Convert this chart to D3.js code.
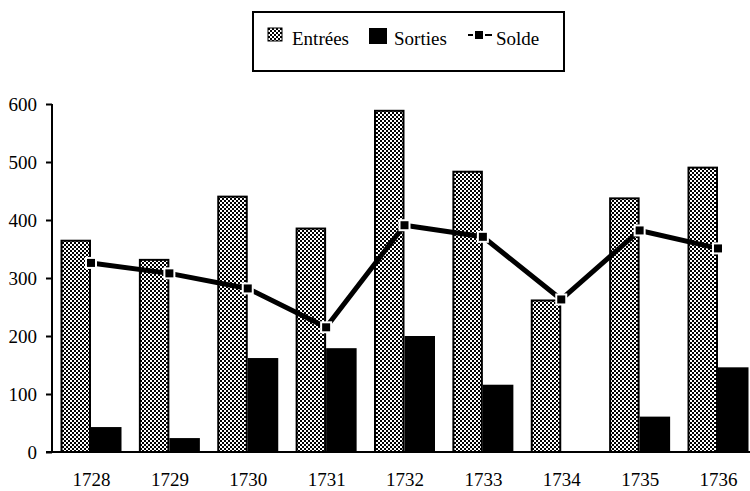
<!DOCTYPE html>
<html><head><meta charset="utf-8">
<script src="https://cdn.jsdelivr.net/npm/d3@7"></script>
<style>
html,body{margin:0;padding:0;background:#fff;}
text{font-family:"Liberation Serif","Times New Roman",serif;fill:#000;}
</style></head>
<body>
<svg id="chart" width="750" height="491"></svg>
<script>
const years = ["1728","1729","1730","1731","1732","1733","1734","1735","1736"];
const entrees = [366, 333, 442, 387, 590, 485, 263, 439, 492];
const sorties = [43, 24, 162, 179, 200, 116, 0, 61, 146];
const solde = [326, 308, 282, 215, 391, 371, 263, 382, 351];
const yTicks = [0, 100, 200, 300, 400, 500, 600];
const seriesNames = ["Entrées", "Sorties", "Solde"];

const svg = d3.select("#chart");
const defs = svg.append("defs");
const pat = defs.append("pattern").attr("id","checker").attr("patternUnits","userSpaceOnUse")
  .attr("width",4).attr("height",4);
pat.append("rect").attr("width",4).attr("height",4).attr("fill","#fff");
pat.append("rect").attr("x",0).attr("y",0).attr("width",2).attr("height",2).attr("fill","#000");
pat.append("rect").attr("x",2).attr("y",2).attr("width",2).attr("height",2).attr("fill","#000");

const y = d3.scaleLinear().domain([0,600]).range([452,104]);
const x = d3.scalePoint().domain(years).range([91,718]);
const barW = 30.5;
const xs = d3.scaleBand().domain(["Entrées","Sorties"]).range([-barW, barW]).padding(0);

// bars
const g = svg.append("g");
g.selectAll("rect.ent").data(years).join("rect").attr("class","ent")
  .attr("x", d => x(d) + xs("Entrées") + 1)
  .attr("y", (d,i) => y(entrees[i]) + 1)
  .attr("width", xs.bandwidth() - 2)
  .attr("height", (d,i) => y(0) - y(entrees[i]) - 1)
  .attr("fill","url(#checker)").attr("stroke","#000").attr("stroke-width",2);
g.selectAll("rect.sor").data(years).join("rect").attr("class","sor")
  .attr("x", d => x(d) + xs("Sorties"))
  .attr("y", (d,i) => y(sorties[i]))
  .attr("width", xs.bandwidth())
  .attr("height", (d,i) => y(0) - y(sorties[i]))
  .attr("fill","#000");

// axes
const yAxis = d3.axisLeft(y).tickValues(yTicks).tickSize(6).tickPadding(9);
const ya = svg.append("g").attr("transform","translate(52,0)").call(yAxis);
ya.select(".domain").attr("stroke","#000").attr("stroke-width",2).attr("d","M0,452V104");
ya.selectAll(".tick line").attr("stroke","#000").attr("stroke-width",2);
ya.selectAll(".tick text").attr("font-size",19).attr("font-family","Liberation Serif").attr("fill","#000");

const xAxis = d3.axisBottom(x).tickSize(0).tickPadding(21);
const xa = svg.append("g").attr("transform","translate(0,452)").call(xAxis);
xa.select(".domain").attr("stroke","#000").attr("stroke-width",2).attr("d","M46,0H750");
xa.selectAll(".tick text").attr("font-size",19).attr("font-family","Liberation Serif").attr("fill","#000");

// solde line
const line = d3.line().x((d,i) => x(years[i])).y(d => y(d));
svg.append("path").datum(solde).attr("d", line).attr("fill","none")
  .attr("stroke","#000").attr("stroke-width",5).attr("stroke-linejoin","round");
svg.selectAll("rect.mk").data(solde).join("rect").attr("class","mk")
  .attr("x",(d,i) => x(years[i]) - 5).attr("y", d => y(d) - 5)
  .attr("width",10).attr("height",10).attr("fill","#000")
  .attr("stroke","#fff").attr("stroke-width",2);

// legend
const lg = svg.append("g");
lg.append("rect").attr("x",253).attr("y",12).attr("width",311).attr("height",59)
  .attr("fill","#fff").attr("stroke","#000").attr("stroke-width",2);
lg.append("rect").attr("x",268).attr("y",28).attr("width",14).attr("height",13)
  .attr("fill","url(#checker)").attr("stroke","#000").attr("stroke-width",1);
lg.append("text").attr("x",292).attr("y",45).attr("font-size",19).text(seriesNames[0]);
lg.append("rect").attr("x",369).attr("y",28).attr("width",18).attr("height",16).attr("fill","#000");
lg.append("text").attr("x",394).attr("y",45).attr("font-size",19).text(seriesNames[1]);
lg.append("line").attr("x1",468).attr("x2",473).attr("y1",35).attr("y2",35).attr("stroke","#000").attr("stroke-width",2);
lg.append("rect").attr("x",475).attr("y",31).attr("width",8).attr("height",8).attr("fill","#000");
lg.append("line").attr("x1",485).attr("x2",492).attr("y1",35).attr("y2",35).attr("stroke","#000").attr("stroke-width",2);
lg.append("text").attr("x",496).attr("y",45).attr("font-size",19).text(seriesNames[2]);
</script>
</body></html>
